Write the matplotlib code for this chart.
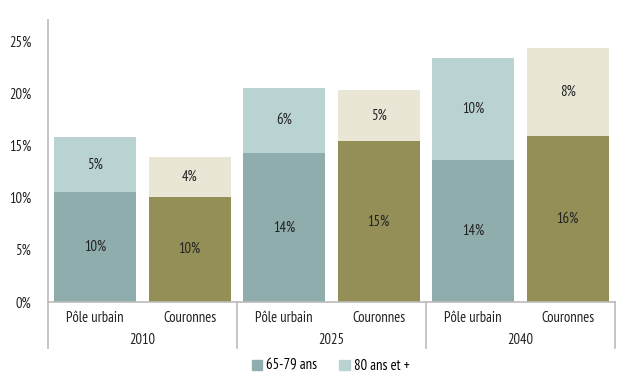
import numpy as np
import matplotlib.pyplot as plt

plt.rcParams['font.family'] = ['PT Sans Narrow', 'Roboto Condensed', 'DejaVu Sans']

# Data
years = ["2010", "2025", "2040"]
zones = ["Pôle urbain", "Couronnes"]
age_65_79 = [10.5, 10.1, 14.3, 15.4, 13.6, 15.9]
age_80_plus = [5.3, 3.8, 6.2, 4.9, 9.8, 8.4]
labels_65_79 = ["10%", "10%", "14%", "15%", "14%", "16%"]
labels_80_plus = ["5%", "4%", "6%", "5%", "10%", "8%"]

col_pu = ("#8fadad", "#b9d2d2")
col_cour = ("#938f57", "#e9e6d6")
fs = 10.5

fig = plt.figure(figsize=(6.3, 3.85), dpi=100)
ax = fig.add_axes([0.076, 0.2156, 0.9, 0.7325])

x = np.arange(6)
bottom_cols = [col_pu[0] if i % 2 == 0 else col_cour[0] for i in x]
top_cols = [col_pu[1] if i % 2 == 0 else col_cour[1] for i in x]

ax.bar(x, age_65_79, width=0.87, color=bottom_cols)
ax.bar(x, age_80_plus, width=0.87, bottom=age_65_79, color=top_cols)

for i in x:
    ax.text(i, age_65_79[i] / 2, labels_65_79[i], ha="center", va="center",
            fontsize=fs, color="#222222")
    ax.text(i, age_65_79[i] + age_80_plus[i] / 2, labels_80_plus[i],
            ha="center", va="center", fontsize=fs, color="#222222")

ax.set_xlim(-0.5, 5.5)
ax.set_ylim(0, 27)
ax.set_yticks([0, 5, 10, 15, 20, 25])
ax.set_yticklabels(["0%", "5%", "10%", "15%", "20%", "25%"])
ax.tick_params(axis="y", length=0, labelsize=fs, pad=12, colors="#222222")
ax.set_xticks([])

for s in ["top", "right", "bottom"]:
    ax.spines[s].set_visible(False)
ax.spines["left"].set_color("#bbbbbb")
ax.spines["left"].set_linewidth(1.2)

# category table below the axis
trans = ax.get_xaxis_transform()
ax.plot([-0.5, 5.5], [0, 0], color="#bbbbbb", lw=1.2, transform=trans, clip_on=False)
for sx in [-0.5, 1.5, 3.5, 5.5]:
    ax.plot([sx, sx], [0, -0.163], color="#bbbbbb", lw=1.2, transform=trans, clip_on=False)
for i in x:
    ax.text(i, -0.058, zones[i % 2], ha="center", va="center", fontsize=fs,
            color="#222222", transform=trans)
for k, yr in enumerate(years):
    ax.text(2 * k + 0.5, -0.135, yr, ha="center", va="center", fontsize=fs,
            color="#222222", transform=trans)

# legend
h1 = plt.Rectangle((0, 0), 1, 1, color=col_pu[0])
h2 = plt.Rectangle((0, 0), 1, 1, color=col_pu[1])
fig.legend([h1, h2], ["65-79 ans", "80 ans et +"], loc="center",
           bbox_to_anchor=(0.525, 0.05), ncol=2, frameon=False, fontsize=fs,
           handlelength=0.7, handleheight=0.7, handletextpad=0.3, columnspacing=1.5)

fig.savefig("out.png", dpi=100)
